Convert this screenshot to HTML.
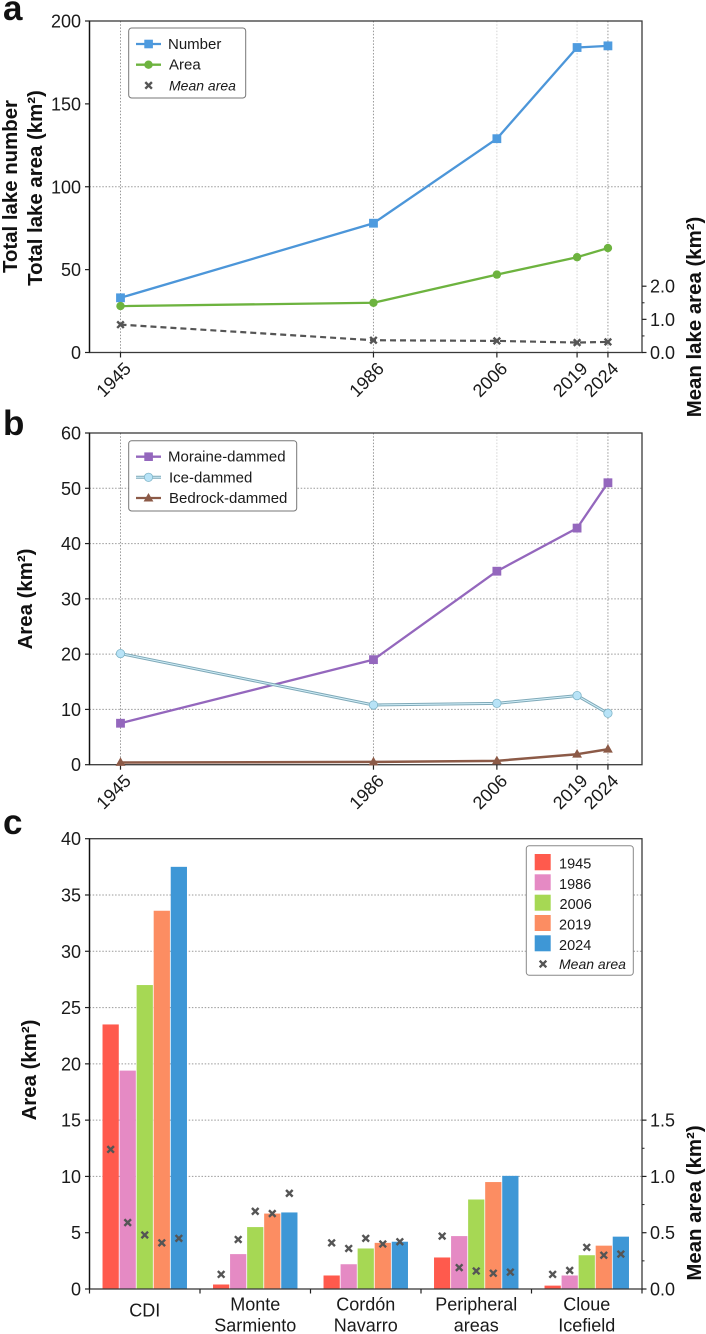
<!DOCTYPE html>
<html lang="en">
<head>
<meta charset="utf-8">
<title>Lake evolution charts</title>
<style>
html,body{margin:0;padding:0;background:#fff;}
svg{display:block;font-family:"Liberation Sans",Arial,sans-serif;}
.tick{font-size:18px;fill:#1a1a1a;}
.title{font-size:20.4px;font-weight:bold;fill:#111;}
.leg{font-size:15px;fill:#1a1a1a;}
.legyear{font-size:14.5px;fill:#1a1a1a;}
.legmean{font-size:14px;font-style:italic;fill:#1a1a1a;}
.panel{font-size:35px;font-weight:bold;fill:#111;}
</style>
</head>
<body>
<svg id="fig" xmlns="http://www.w3.org/2000/svg" width="706" height="1334" viewBox="0 0 706 1334">
  <rect width="706" height="1334" fill="#fff"/>
  <g id="layer-a"></g>
  <g id="layer-b"></g>
  <g id="layer-c"></g>

  <text class="panel" x="3" y="20">a</text>
  <text class="panel" x="3" y="435">b</text>
  <text class="panel" x="3" y="834">c</text>

  <text class="title" transform="translate(17,186.5) rotate(-90)" text-anchor="middle">Total lake number</text>
  <text class="title" transform="translate(42,188) rotate(-90)" text-anchor="middle">Total lake area (km²)</text>
  <text class="title" transform="translate(701,317) rotate(-90)" text-anchor="middle">Mean lake area (km²)</text>
  <text class="title" transform="translate(32,599) rotate(-90)" text-anchor="middle">Area (km²)</text>
  <text class="title" transform="translate(36,1070) rotate(-90)" text-anchor="middle">Area (km²)</text>
  <text class="title" transform="translate(701,1203) rotate(-90)" text-anchor="middle">Mean area (km²)</text>

  <g>
    <rect x="128.7" y="28" width="117" height="70" rx="3" fill="#fff" fill-opacity=".9" stroke="#777" stroke-width="1"/>
    <line x1="136" x2="161" y1="44" y2="44" stroke="#4c96d9" stroke-width="2.3"/>
    <rect x="144.3" y="39.7" width="8.6" height="8.6" fill="#4e9bdf"/>
    <text class="leg" x="168" y="49">Number</text>
    <line x1="136" x2="161" y1="64.7" y2="64.7" stroke="#6db33f" stroke-width="2.3"/>
    <circle cx="148.5" cy="64.7" r="4.2" fill="#6db33f"/>
    <text class="leg" x="169" y="69.7">Area</text>
    <path d="M145.3 82.1l6.6 6.6M151.9 82.1l-6.6 6.6" stroke="#555" stroke-width="2.4" fill="none"/>
    <text class="legmean" x="169" y="90.3">Mean area</text>
  </g>

  <g>
    <rect x="128.7" y="440.7" width="168" height="70.3" rx="3" fill="#fff" stroke="#777" stroke-width="1"/>
    <line x1="136" x2="161" y1="456.7" y2="456.7" stroke="#9467bd" stroke-width="2.3"/>
    <rect x="144.3" y="452.4" width="8.6" height="8.6" fill="#9467bd"/>
    <text class="leg" x="168" y="461.7">Moraine-dammed</text>
    <line x1="136" x2="161" y1="477.3" y2="477.3" stroke="#7fa9b8" stroke-width="3"/>
    <line x1="136" x2="161" y1="477.3" y2="477.3" stroke="#d3f0fa" stroke-width="1"/>
    <circle cx="148.5" cy="477.3" r="4.2" fill="#b8e3f7" stroke="#7fb5c8" stroke-width=".8"/>
    <text class="leg" x="169" y="482.3">Ice-dammed</text>
    <line x1="136" x2="161" y1="498" y2="498" stroke="#8c5a47" stroke-width="2.3"/>
    <path d="M148.5 493l4.9 8.5h-9.8z" fill="#8c5a47"/>
    <text class="leg" x="169" y="503">Bedrock-dammed</text>
  </g>

  <g>
    <rect x="526.3" y="845.7" width="107" height="129.6" rx="3" fill="#fff" stroke="#888" stroke-width="1"/>
    <rect x="534.7" y="854" width="16" height="16.3" fill="#ff5a4d"/>
    <text class="legyear" x="559" y="868.5">1945</text>
    <rect x="534.7" y="874.3" width="16" height="16" fill="#e58ac4"/>
    <text class="legyear" x="559" y="889">1986</text>
    <rect x="534.7" y="894.7" width="16" height="16" fill="#a6d854"/>
    <text class="legyear" x="559.5" y="909">2006</text>
    <rect x="534.7" y="915" width="16" height="16" fill="#fc8d62"/>
    <text class="legyear" x="559" y="929.5">2019</text>
    <rect x="534.7" y="935.3" width="16" height="16" fill="#3e97d6"/>
    <text class="legyear" x="559" y="950">2024</text>
    <path d="M539.7 960.7l6.6 6.6M546.3 960.7l-6.6 6.6" stroke="#555" stroke-width="2.4" fill="none"/>
    <text class="legmean" x="559" y="969">Mean area</text>
  </g>
</svg>

<script>
// ---------- shared data ----------
const years = [1945, 1986, 2006, 2019, 2024];
const yearLabels = ['1945', '1986', '2006', '2019', '2024'];

// ---------- panel a data ----------
const lakeNumber = [33, 78, 129, 184, 185];
const lakeArea = [28, 30, 47, 57.5, 63];
const meanLakeArea = [0.84, 0.37, 0.35, 0.30, 0.32];
const aLeftTicks = [0, 50, 100, 150, 200];
const aGridValues = [100];
const aRightTicks = [0, 1, 2];
const aRightMinor = [0.5, 1.5];

// ---------- panel b data ----------
const moraineArea = [7.5, 19, 35, 42.8, 51];
const iceArea = [20.1, 10.8, 11.1, 12.5, 9.3];
const bedrockArea = [0.4, 0.5, 0.7, 1.9, 2.8];
const bTicks = [0, 10, 20, 30, 40, 50, 60];
const bGridValues = [10, 20, 30, 40, 50];

// ---------- panel c data ----------
const regions = [['CDI'], ['Monte', 'Sarmiento'], ['Cordón', 'Navarro'], ['Peripheral', 'areas'], ['Cloue', 'Icefield']];
const regionNames = ['cdi', 'monte-sarmiento', 'cordon-navarro', 'peripheral-areas', 'cloue-icefield'];
const area1945 = [23.5, 0.4, 1.2, 2.8, 0.3];
const area1986 = [19.4, 3.1, 2.2, 4.7, 1.2];
const area2006 = [27, 5.5, 3.6, 7.95, 3.0];
const area2019 = [33.6, 6.7, 4.1, 9.5, 3.85];
const area2024 = [37.5, 6.8, 4.2, 10.05, 4.65];
const mean1945 = [1.24, 0.13, 0.41, 0.47, 0.13];
const mean1986 = [0.59, 0.44, 0.36, 0.19, 0.165];
const mean2006 = [0.48, 0.69, 0.45, 0.16, 0.37];
const mean2019 = [0.41, 0.67, 0.40, 0.14, 0.30];
const mean2024 = [0.45, 0.85, 0.42, 0.15, 0.31];
const cTicks = [0, 5, 10, 15, 20, 25, 30, 35, 40];
const cGridValues = [10, 15, 20, 25, 30, 35];
const cRightTicks = [0, 0.5, 1.0, 1.5];
const cRightMinor = [0.25, 0.75, 1.25];

// ---------- geometry and scales ----------
const NS = 'http://www.w3.org/2000/svg';
const plotLeft = 89.5, plotRight = 642;
const aTop = 21, aBottom = 352.5;
const bTop = 433, bBottom = 764.7;
const cTop = 838.7, cBottom = 1289;
const xYear = v => 120.5 + (v - 1945) * 6.17;
const yA = v => aBottom - v * (aBottom - aTop) / 200;
const yAR = v => aBottom - v * (aBottom - aTop) / 10;
const yB = v => bBottom - v * (bBottom - bTop) / 60;
const yC = v => cBottom - v * (cBottom - cTop) / 40;
const yCR = v => cBottom - v * (cBottom - cTop) / 4;
const groupWidth = (plotRight - plotLeft) / regions.length;
const barWidth = 17.05;
const xGroup = i => plotLeft + i * groupWidth;
const xBar = (g, s) => xGroup(g) + groupWidth / 2 + (s - 2.5) * barWidth;

function mk(parent, tag, attrs, text) {
  const el = document.createElementNS(NS, tag);
  for (const k in attrs) el.setAttribute(k, attrs[k]);
  if (text !== undefined) el.textContent = text;
  parent.appendChild(el);
  return el;
}

function hGrid(g, vals, scale, prefix) {
  vals.forEach(v => {
    const el = mk(g, 'line', {x1: plotLeft, x2: plotRight, y1: scale(v), y2: scale(v), stroke: '#9a9a9a', 'stroke-width': 1, 'stroke-dasharray': '1.5 1.7'});
    
    
  });
}

function vGrid(g, top, bottom, prefix) {
  years.forEach((yr, i) => {
    const faint = yr === 2006 || yr === 2019;
    const el = mk(g, 'line', {x1: xYear(yr), x2: xYear(yr), y1: top, y2: bottom, stroke: faint ? '#d4d4d4' : '#999', 'stroke-width': 1, 'stroke-dasharray': '1.5 1.7'});
    
    
  });
}

function frame(g, top, bottom, prefix) {
  const box = mk(g, 'rect', {x: plotLeft, y: top, width: plotRight - plotLeft, height: bottom - top, fill: 'none', stroke: '#3a3a3a', 'stroke-width': 1.3});
  
  
  const left = mk(g, 'line', {x1: plotLeft, x2: plotLeft, y1: top, y2: bottom, stroke: '#111', 'stroke-width': 1.3});
  
  
}

function yTicksLeft(g, vals, scale, prefix) {
  vals.forEach(v => {
    const t = mk(g, 'line', {x1: plotLeft - 4.5, x2: plotLeft, y1: scale(v), y2: scale(v), stroke: '#222', 'stroke-width': 1.2});
    
    
    const l = mk(g, 'text', {class: 'tick', x: plotLeft - 8.5, y: scale(v) + 6.5, 'text-anchor': 'end'}, String(v));
    
    
  });
}

function yTicksRight(g, major, minor, scale, prefix) {
  major.forEach(v => {
    const t = mk(g, 'line', {x1: plotRight, x2: plotRight + 4.5, y1: scale(v), y2: scale(v), stroke: '#222', 'stroke-width': 1.2});
    
    
    const l = mk(g, 'text', {class: 'tick', x: plotRight + 8, y: scale(v) + 6.5}, v.toFixed(1));
    
    
  });
  minor.forEach(v => {
    const t = mk(g, 'line', {x1: plotRight, x2: plotRight + 2.5, y1: scale(v), y2: scale(v), stroke: '#222', 'stroke-width': 1});
    
    
  });
}

function yearTicks(g, bottom, prefix) {
  years.forEach((yr, i) => {
    const x = xYear(yr);
    const t = mk(g, 'line', {x1: x, x2: x, y1: bottom, y2: bottom + 5, stroke: '#222', 'stroke-width': 1.2});
    
    
    const cy = bottom + 27;
    const l = mk(g, 'text', {class: 'tick', x: x - 7, y: cy + 6.3, 'text-anchor': 'middle', transform: 'rotate(-45 ' + (x - 7) + ' ' + cy + ')'}, yearLabels[i]);
    
    
  });
}

function linePts(vals, scale) {
  return vals.map((v, i) => xYear(years[i]) + ',' + scale(v)).join(' ');
}

function polyline(g, vals, scale, stroke, width, name, dash) {
  const attrs = {points: linePts(vals, scale), fill: 'none', stroke: stroke, 'stroke-width': width, 'stroke-linejoin': 'round'};
  if (dash) attrs['stroke-dasharray'] = dash;
  const el = mk(g, 'polyline', attrs);
  
  
}

function squares(g, vals, scale, fill, name) {
  vals.forEach((v, i) => {
    const el = mk(g, 'rect', {x: xYear(years[i]) - 4.4, y: scale(v) - 4.4, width: 8.8, height: 8.8, fill: fill});
    
    
  });
}

function circles(g, vals, scale, fill, edge, name) {
  vals.forEach((v, i) => {
    const el = mk(g, 'circle', {cx: xYear(years[i]), cy: scale(v), r: 4.2, fill: fill, stroke: edge, 'stroke-width': edge === 'none' ? 0 : 0.8});
    
    
  });
}

function triangles(g, vals, scale, fill, name) {
  vals.forEach((v, i) => {
    const x = xYear(years[i]), y = scale(v);
    const el = mk(g, 'path', {d: 'M' + x + ' ' + (y - 5.2) + 'l4.9 8.6h-9.8z', fill: fill});
    
    
  });
}

function cross(g, x, y, name) {
  const s = 3.3;
  const el = mk(g, 'path', {d: 'M' + (x - s) + ' ' + (y - s) + 'l' + 2 * s + ' ' + 2 * s + 'M' + (x + s) + ' ' + (y - s) + 'l' + (-2 * s) + ' ' + 2 * s, stroke: '#555', 'stroke-width': 2.4, fill: 'none'});
  
  
}

// ---------- panel a ----------
(function () {
  const g = document.getElementById('layer-a');
  hGrid(g, aGridValues, yA, 'panel-a');
  vGrid(g, aTop, aBottom, 'panel-a');
  frame(g, aTop, aBottom, 'panel-a');
  yTicksLeft(g, aLeftTicks, yA, 'panel-a');
  yTicksRight(g, aRightTicks, aRightMinor, yAR, 'panel-a');
  yearTicks(g, aBottom, 'panel-a');
  polyline(g, lakeNumber, yA, '#4c96d9', 2.3, 'number-line');
  squares(g, lakeNumber, yA, '#4e9bdf', 'number-point');
  polyline(g, lakeArea, yA, '#6db33f', 2.3, 'area-line');
  circles(g, lakeArea, yA, '#6db33f', 'none', 'area-point');
  polyline(g, meanLakeArea, yAR, '#555', 2.2, 'mean-area-line', '6 4');
  meanLakeArea.forEach((v, i) => cross(g, xYear(years[i]), yAR(v), 'mean-area-point-' + yearLabels[i]));
})();

// ---------- panel b ----------
(function () {
  const g = document.getElementById('layer-b');
  hGrid(g, bGridValues, yB, 'panel-b');
  vGrid(g, bTop, bBottom, 'panel-b');
  frame(g, bTop, bBottom, 'panel-b');
  yTicksLeft(g, bTicks, yB, 'panel-b');
  yearTicks(g, bBottom, 'panel-b');
  polyline(g, moraineArea, yB, '#9467bd', 2.3, 'moraine-line');
  squares(g, moraineArea, yB, '#9467bd', 'moraine-point');
  polyline(g, iceArea, yB, '#7fa9b8', 3, 'ice-line-edge');
  polyline(g, iceArea, yB, '#d3f0fa', 1, 'ice-line');
  circles(g, iceArea, yB, '#b8e3f7', '#7fb5c8', 'ice-point');
  polyline(g, bedrockArea, yB, '#8c5a47', 2.5, 'bedrock-line');
  triangles(g, bedrockArea, yB, '#8c5a47', 'bedrock-point');
})();

// ---------- panel c ----------
(function () {
  const g = document.getElementById('layer-c');
  const barSeries = [area1945, area1986, area2006, area2019, area2024];
  const meanSeries = [mean1945, mean1986, mean2006, mean2019, mean2024];
  const barColors = ['#ff5a4d', '#e58ac4', '#a6d854', '#fc8d62', '#3e97d6'];
  hGrid(g, cGridValues, yC, 'panel-c');
  barSeries.forEach((series, s) => {
    series.forEach((v, r) => {
      const el = mk(g, 'rect', {x: xBar(r, s) + 0.4, y: yC(v), width: barWidth - 0.8, height: cBottom - yC(v), fill: barColors[s]});
      
      
    });
  });
  frame(g, cTop, cBottom, 'panel-c');
  yTicksLeft(g, cTicks, yC, 'panel-c');
  yTicksRight(g, cRightTicks, cRightMinor, yCR, 'panel-c');
  for (let i = 0; i <= regions.length; i++) {
    const t = mk(g, 'line', {x1: xGroup(i), x2: xGroup(i), y1: cBottom, y2: cBottom + 4.5, stroke: '#222', 'stroke-width': 1.2});
    
    
  }
  regions.forEach((lines, r) => {
    const cx = xGroup(r) + groupWidth / 2;
    lines.forEach((txt, k) => {
      const y = lines.length === 1 ? 1316.7 : 1310.7 + k * 21;
      const l = mk(g, 'text', {class: 'tick', x: cx, y: y, 'text-anchor': 'middle'}, txt);
      
      
    });
  });
  meanSeries.forEach((series, s) => {
    series.forEach((v, r) => {
      cross(g, xBar(r, s) + barWidth / 2, yCR(v), 'mean-area-' + regionNames[r] + '-' + yearLabels[s]);
    });
  });
})();
</script>
</body>
</html>
